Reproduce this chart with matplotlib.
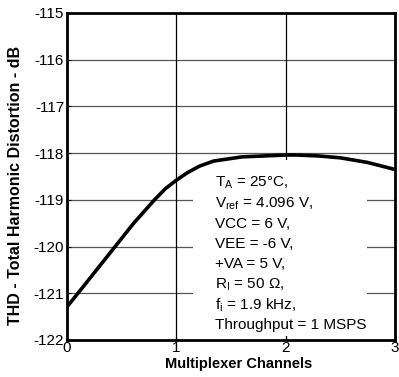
import matplotlib
matplotlib.use("Agg")
import matplotlib.pyplot as plt
from matplotlib.patches import Rectangle

# THD vs multiplexer channels
channels = [0.0, 0.10, 0.27, 0.44, 0.61, 0.80, 0.90, 1.0, 1.1, 1.21, 1.34, 1.6, 1.8, 2.0, 2.1, 2.3, 2.5, 2.75, 3.0]
thd_db = [-121.29, -121.0, -120.5, -120.0, -119.5, -119.0, -118.76, -118.58, -118.42, -118.28, -118.17, -118.08, -118.06, -118.04, -118.04, -118.06, -118.1, -118.2, -118.35]

x_ticks = [0, 1, 2, 3]
y_ticks = [-122, -121, -120, -119, -118, -117, -116, -115]

note_lines = ["T$_\\mathregular{A}$ = 25°C,",
              "V$_\\mathregular{ref}$ = 4.096 V,",
              "VCC = 6 V,",
              "VEE = -6 V,",
              "+VA = 5 V,",
              "R$_\\mathregular{I}$ = 50 Ω,",
              "f$_\\mathregular{i}$ = 1.9 kHz,",
              "Throughput = 1 MSPS"]

plt.rcParams['font.family'] = ['Liberation Sans', 'DejaVu Sans']
plt.rcParams['axes.unicode_minus'] = False

fig = plt.figure(figsize=(3.99, 3.77), dpi=100)
ax = fig.add_axes([67 / 399, 1 - 340 / 377, 328 / 399, 327 / 377])

for y in y_ticks[1:-1]:
    ax.axhline(y, color="#555555", lw=0.9, zorder=1)
for x in x_ticks[1:-1]:
    ax.axvline(x, color="black", lw=0.9, zorder=1)

# white panel behind the conditions text
ax.add_patch(Rectangle((1.153, -121.92), 1.592, 3.77, facecolor="white", edgecolor="none", zorder=2))

ax.plot(channels, thd_db, color="black", lw=2.6, zorder=4, solid_capstyle="butt")

# one line at a time, about 20 px apart
for i, line in enumerate(note_lines):
    ax.text(1.354, -118.64 - i * 0.434, line, fontsize=11, va="center", ha="left", zorder=3)

ax.set_xlim(0, 3)
ax.set_ylim(-122, -115)
ax.set_xticks(x_ticks)
ax.set_yticks(y_ticks)
ax.tick_params(direction="in", length=3, width=0.8, labelsize=11, pad=2)
ax.tick_params(axis="x", pad=1)
for s in ax.spines.values():
    s.set_linewidth(2)
    s.set_zorder(5)

ax.set_xlabel("Multiplexer Channels", fontsize=10.5, fontweight="bold")
ax.set_ylabel("THD - Total Harmonic Distortion - dB", fontsize=11.5, fontweight="bold")
ax.xaxis.set_label_coords(0.524, -0.053)
ax.yaxis.set_label_coords(-0.134, 0.474)

fig.savefig("out.png", dpi=100)
